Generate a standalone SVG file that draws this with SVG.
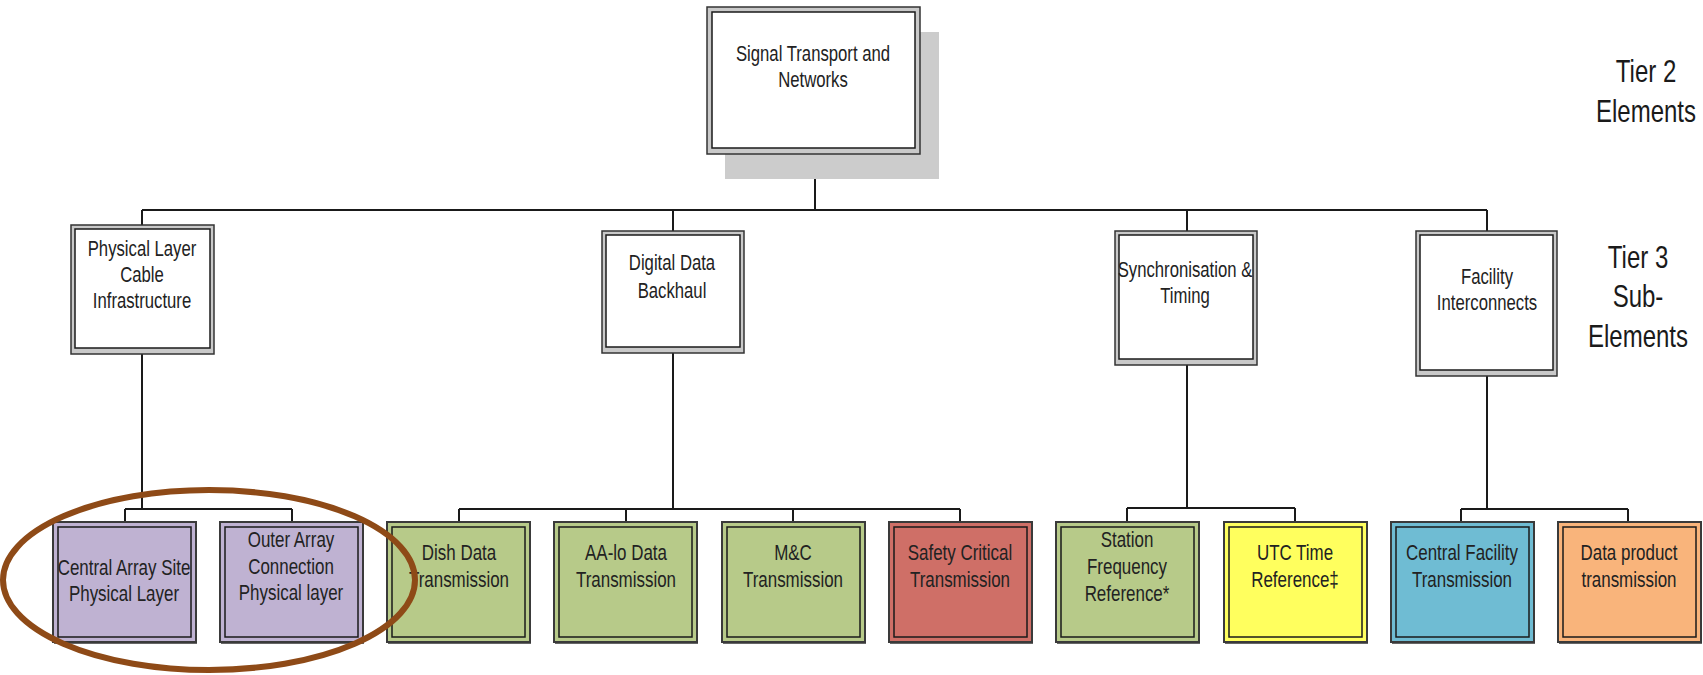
<svg xmlns="http://www.w3.org/2000/svg" width="1703" height="675" viewBox="0 0 1703 675">
<style>
  .t { font-family: "Liberation Sans", Arial, sans-serif; font-size: 22px; fill: #222; text-anchor: middle; }
  .tl { font-family: "Liberation Sans", Arial, sans-serif; font-size: 32px; fill: #1a1a1a; text-anchor: middle; }
  .conn { stroke: #1a1a1a; stroke-width: 2; fill: none; }
  .o3 { fill: #c9c9c9; stroke: #333; stroke-width: 1.5; }
  .i3 { fill: #ffffff; stroke: #1a1a1a; stroke-width: 1.5; }
  .leafo { stroke: #3a3a3a; stroke-width: 2; }
  .leafi { stroke: #1a1a1a; stroke-width: 1.5; }
  .sh { fill: #666; }
</style>
<rect x="0" y="0" width="1703" height="675" fill="#ffffff"/>

<g id="connectors">
  <path class="conn" d="M815 154 V210 M142 210 H1487 M142 210 V225 M673 210 V231 M1187 210 V231 M1487 210 V231"/>
  <path class="conn" d="M142 354 V509 M125 509 H292 M125 509 V522 M292 509 V522"/>
  <path class="conn" d="M673 353 V509 M459 509 H960 M459 509 V522 M626 509 V522 M793 509 V522 M960 509 V522"/>
  <path class="conn" d="M1187 365 V508 M1127 508 H1295 M1127 508 V522 M1295 508 V522"/>
  <path class="conn" d="M1487 376 V509 M1461 509 H1628 M1461 509 V522 M1628 509 V522"/>
</g>

<g id="n-top">
  <rect x="725" y="32" width="214" height="147" fill="#cccccc"/>
  <rect class="o3" x="707" y="7" width="213" height="147"/>
  <rect class="i3" x="712" y="12" width="203" height="136"/>
  <text class="t" transform="translate(813,61) scale(0.76,1)"><tspan x="0" y="0">Signal Transport and</tspan><tspan x="0" y="26">Networks</tspan></text>
</g>

<g id="n-physical">
  <rect class="o3" x="71" y="225" width="143" height="129"/>
  <rect class="i3" x="75" y="229" width="135" height="119"/>
  <text class="t" transform="translate(142,256) scale(0.76,1)"><tspan x="0" y="0">Physical Layer</tspan><tspan x="0" y="26">Cable</tspan><tspan x="0" y="52">Infrastructure</tspan></text>
</g>

<g id="n-digital">
  <rect class="o3" x="602" y="231" width="142" height="122"/>
  <rect class="i3" x="606" y="235" width="134" height="112"/>
  <text class="t" transform="translate(672,270) scale(0.76,1)"><tspan x="0" y="0">Digital Data</tspan><tspan x="0" y="28">Backhaul</tspan></text>
</g>

<g id="n-sync">
  <rect class="o3" x="1115" y="231" width="142" height="134"/>
  <rect class="i3" x="1119" y="235" width="134" height="124"/>
  <text class="t" transform="translate(1185,277) scale(0.76,1)"><tspan x="0" y="0">Synchronisation &amp;</tspan><tspan x="0" y="26">Timing</tspan></text>
</g>

<g id="n-facility">
  <rect class="o3" x="1416" y="231" width="141" height="145"/>
  <rect class="i3" x="1420" y="235" width="133" height="135"/>
  <text class="t" transform="translate(1487,284) scale(0.76,1)"><tspan x="0" y="0">Facility</tspan><tspan x="0" y="26">Interconnects</tspan></text>
</g>

<g id="n-central-array">
  <rect class="sh" x="54" y="524" width="143" height="120"/>
  <rect class="leafo" x="53" y="522" width="143" height="120" fill="#BFB2D2"/>
  <rect class="leafi" x="58" y="527" width="133" height="110" fill="#BFB2D2"/>
  <text class="t" transform="translate(124,575) scale(0.77,1)"><tspan x="0" y="0">Central Array Site</tspan><tspan x="0" y="26">Physical Layer</tspan></text>
</g>

<g id="n-outer-array">
  <rect class="sh" x="221" y="524" width="143" height="120"/>
  <rect class="leafo" x="220" y="522" width="143" height="120" fill="#BFB2D2"/>
  <rect class="leafi" x="225" y="527" width="133" height="110" fill="#BFB2D2"/>
  <text class="t" transform="translate(291,547) scale(0.77,1)"><tspan x="0" y="0">Outer Array</tspan><tspan x="0" y="27">Connection</tspan><tspan x="0" y="53">Physical layer</tspan></text>
</g>

<g id="n-dish">
  <rect class="sh" x="388" y="524" width="143" height="120"/>
  <rect class="leafo" x="387" y="522" width="143" height="120" fill="#B7CA89"/>
  <rect class="leafi" x="392" y="527" width="133" height="110" fill="#B7CA89"/>
  <text class="t" transform="translate(459,560) scale(0.77,1)"><tspan x="0" y="0">Dish Data</tspan><tspan x="0" y="27">Transmission</tspan></text>
</g>

<g id="n-aalo">
  <rect class="sh" x="555" y="524" width="143" height="120"/>
  <rect class="leafo" x="554" y="522" width="143" height="120" fill="#B7CA89"/>
  <rect class="leafi" x="559" y="527" width="133" height="110" fill="#B7CA89"/>
  <text class="t" transform="translate(626,560) scale(0.77,1)"><tspan x="0" y="0">AA-lo Data</tspan><tspan x="0" y="27">Transmission</tspan></text>
</g>

<g id="n-mc">
  <rect class="sh" x="723" y="524" width="143" height="120"/>
  <rect class="leafo" x="722" y="522" width="143" height="120" fill="#B7CA89"/>
  <rect class="leafi" x="727" y="527" width="133" height="110" fill="#B7CA89"/>
  <text class="t" transform="translate(793,560) scale(0.77,1)"><tspan x="0" y="0">M&amp;C</tspan><tspan x="0" y="27">Transmission</tspan></text>
</g>

<g id="n-safety">
  <rect class="sh" x="890" y="524" width="143" height="120"/>
  <rect class="leafo" x="889" y="522" width="143" height="120" fill="#CF6F67"/>
  <rect class="leafi" x="894" y="527" width="133" height="110" fill="#CF6F67"/>
  <text class="t" transform="translate(960,560) scale(0.77,1)"><tspan x="0" y="0">Safety Critical</tspan><tspan x="0" y="27">Transmission</tspan></text>
</g>

<g id="n-station">
  <rect class="sh" x="1057" y="524" width="143" height="120"/>
  <rect class="leafo" x="1056" y="522" width="143" height="120" fill="#B7CA89"/>
  <rect class="leafi" x="1061" y="527" width="133" height="110" fill="#B7CA89"/>
  <text class="t" transform="translate(1127,547) scale(0.77,1)"><tspan x="0" y="0">Station</tspan><tspan x="0" y="27">Frequency</tspan><tspan x="0" y="54">Reference*</tspan></text>
</g>

<g id="n-utc">
  <rect class="sh" x="1225" y="524" width="143" height="120"/>
  <rect class="leafo" x="1224" y="522" width="143" height="120" fill="#FFFF5E"/>
  <rect class="leafi" x="1229" y="527" width="133" height="110" fill="#FFFF5E"/>
  <text class="t" transform="translate(1295,560) scale(0.77,1)"><tspan x="0" y="0">UTC Time</tspan><tspan x="0" y="27">Reference‡</tspan></text>
</g>

<g id="n-central-facility">
  <rect class="sh" x="1392" y="524" width="143" height="120"/>
  <rect class="leafo" x="1391" y="522" width="143" height="120" fill="#6FBCD3"/>
  <rect class="leafi" x="1396" y="527" width="133" height="110" fill="#6FBCD3"/>
  <text class="t" transform="translate(1462,560) scale(0.77,1)"><tspan x="0" y="0">Central Facility</tspan><tspan x="0" y="27">Transmission</tspan></text>
</g>

<g id="n-data-product">
  <rect class="sh" x="1559" y="524" width="143" height="120"/>
  <rect class="leafo" x="1558" y="522" width="143" height="120" fill="#F9B47B"/>
  <rect class="leafi" x="1563" y="527" width="133" height="110" fill="#F9B47B"/>
  <text class="t" transform="translate(1629,560) scale(0.77,1)"><tspan x="0" y="0">Data product</tspan><tspan x="0" y="27">transmission</tspan></text>
</g>

<ellipse cx="209" cy="580" rx="206" ry="90" fill="none" stroke="#8E4A17" stroke-width="6"/>

<g id="labels">
  <text class="tl" transform="translate(1646,82) scale(0.75,1)"><tspan x="0" y="0">Tier 2</tspan><tspan x="0" y="40">Elements</tspan></text>
  <text class="tl" transform="translate(1638,268) scale(0.75,1)"><tspan x="0" y="0">Tier 3</tspan><tspan x="0" y="39">Sub-</tspan><tspan x="0" y="79">Elements</tspan></text>
</g>
</svg>
